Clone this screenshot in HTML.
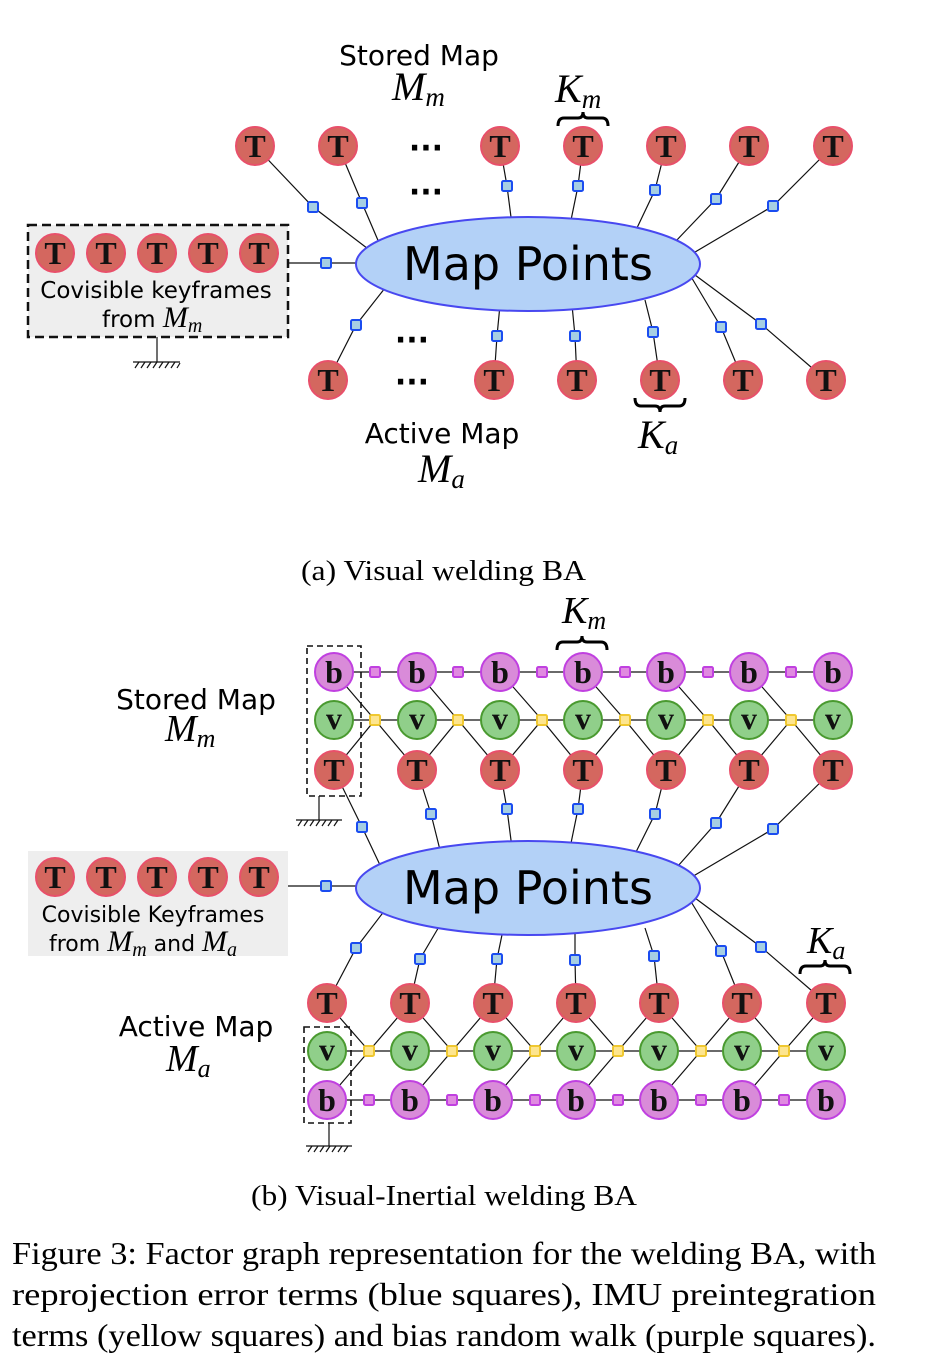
<!DOCTYPE html>
<html><head><meta charset="utf-8"><style>
html,body{margin:0;padding:0;background:#fff}
svg{display:block}
.ln{stroke:#111;stroke-width:1.2;fill:none}
.bs{fill:#a6cfe3;stroke:#1a4cf0;stroke-width:2}
.ys{fill:#fde58f;stroke:#f0c830;stroke-width:2}
.ps{fill:#e08ae0;stroke:#c040e0;stroke-width:2}
.T{fill:#d4675f;stroke:#e8506a;stroke-width:2}
.B{fill:#d98bd9;stroke:#c040e0;stroke-width:2}
.V{fill:#90cf8a;stroke:#4a9a30;stroke-width:2}
.nt{font-family:"Liberation Serif",serif;font-weight:bold;font-size:32px;text-anchor:middle;fill:#111}
.sans{font-family:"DejaVu Sans","Liberation Sans",sans-serif;fill:#000}
.mi{font-family:"Liberation Serif",serif;font-style:italic;fill:#000}
.cap{font-family:"Liberation Serif",serif;fill:#000}
</style></head><body>
<svg width="930" height="1368" viewBox="0 0 930 1368" xmlns="http://www.w3.org/2000/svg">
<rect x="28" y="225" width="260" height="112" fill="#eee" stroke="#111" stroke-width="2.5" stroke-dasharray="9,5"/>
<line class="ln" x1="157" y1="337" x2="157" y2="362"/>
<line class="ln" x1="133" y1="362" x2="180" y2="362"/>
<path class="ln" d="M135,368l4,-6M141,368l4,-6M147,368l4,-6M153,368l4,-6M159,368l4,-6M165,368l4,-6M171,368l4,-6M177,368l3,-5"/>
<polyline class="ln" points="255,146 313,207 380,258"/>
<polyline class="ln" points="338,146 362,203 380,245"/>
<polyline class="ln" points="500,146 507,186 512,225"/>
<polyline class="ln" points="583,146 578,186 570,225"/>
<polyline class="ln" points="666,146 655,190 636,230"/>
<polyline class="ln" points="749,146 716,199 675,242"/>
<polyline class="ln" points="833,146 773,206 690,255"/>
<line class="ln" x1="288" y1="263" x2="365" y2="263"/>
<polyline class="ln" points="328,380 356,325 385,288"/>
<polyline class="ln" points="494,380 497,336 500,305"/>
<polyline class="ln" points="577,380 575,336 572,305"/>
<polyline class="ln" points="660,380 653,332 645,300"/>
<polyline class="ln" points="743,380 721,327 690,275"/>
<polyline class="ln" points="826,380 761,324 695,275"/>
<ellipse cx="528" cy="264" rx="172" ry="47" fill="#b3d1f7" stroke="#4848f0" stroke-width="2"/>
<text x="528" y="280" class="sans" font-size="46" text-anchor="middle">Map Points</text>
<g>
<rect class="bs" x="308" y="202" width="10" height="10" rx="1.5"/>
<rect class="bs" x="357" y="198" width="10" height="10" rx="1.5"/>
<rect class="bs" x="502" y="181" width="10" height="10" rx="1.5"/>
<rect class="bs" x="573" y="181" width="10" height="10" rx="1.5"/>
<rect class="bs" x="650" y="185" width="10" height="10" rx="1.5"/>
<rect class="bs" x="711" y="194" width="10" height="10" rx="1.5"/>
<rect class="bs" x="768" y="201" width="10" height="10" rx="1.5"/>
<rect class="bs" x="321" y="258" width="10" height="10" rx="1.5"/>
<rect class="bs" x="351" y="320" width="10" height="10" rx="1.5"/>
<rect class="bs" x="492" y="331" width="10" height="10" rx="1.5"/>
<rect class="bs" x="570" y="331" width="10" height="10" rx="1.5"/>
<rect class="bs" x="648" y="327" width="10" height="10" rx="1.5"/>
<rect class="bs" x="716" y="322" width="10" height="10" rx="1.5"/>
<rect class="bs" x="756" y="319" width="10" height="10" rx="1.5"/>
</g>
<g>
<circle class="T" cx="255" cy="146" r="19"/><text class="nt" x="255" y="157">T</text>
<circle class="T" cx="338" cy="146" r="19"/><text class="nt" x="338" y="157">T</text>
<circle class="T" cx="500" cy="146" r="19"/><text class="nt" x="500" y="157">T</text>
<circle class="T" cx="583" cy="146" r="19"/><text class="nt" x="583" y="157">T</text>
<circle class="T" cx="666" cy="146" r="19"/><text class="nt" x="666" y="157">T</text>
<circle class="T" cx="749" cy="146" r="19"/><text class="nt" x="749" y="157">T</text>
<circle class="T" cx="833" cy="146" r="19"/><text class="nt" x="833" y="157">T</text>
<circle class="T" cx="328" cy="380" r="19"/><text class="nt" x="328" y="391">T</text>
<circle class="T" cx="494" cy="380" r="19"/><text class="nt" x="494" y="391">T</text>
<circle class="T" cx="577" cy="380" r="19"/><text class="nt" x="577" y="391">T</text>
<circle class="T" cx="660" cy="380" r="19"/><text class="nt" x="660" y="391">T</text>
<circle class="T" cx="743" cy="380" r="19"/><text class="nt" x="743" y="391">T</text>
<circle class="T" cx="826" cy="380" r="19"/><text class="nt" x="826" y="391">T</text>
<circle class="T" cx="55" cy="253" r="19"/><text class="nt" x="55" y="264">T</text>
<circle class="T" cx="106" cy="253" r="19"/><text class="nt" x="106" y="264">T</text>
<circle class="T" cx="157" cy="253" r="19"/><text class="nt" x="157" y="264">T</text>
<circle class="T" cx="208" cy="253" r="19"/><text class="nt" x="208" y="264">T</text>
<circle class="T" cx="259" cy="253" r="19"/><text class="nt" x="259" y="264">T</text>
</g>
<text x="426" y="158" class="sans" font-size="30" text-anchor="middle" font-weight="bold">···</text>
<text x="426" y="202" class="sans" font-size="30" text-anchor="middle" font-weight="bold">···</text>
<text x="412" y="350" class="sans" font-size="30" text-anchor="middle" font-weight="bold">···</text>
<text x="412" y="392" class="sans" font-size="30" text-anchor="middle" font-weight="bold">···</text>
<text x="156" y="298" class="sans" font-size="23" text-anchor="middle">Covisible keyframes</text>
<text x="102" y="327" class="sans" font-size="23">from <tspan class="mi" font-size="30">M</tspan><tspan class="mi" font-size="20" dy="5">m</tspan></text>
<text x="419" y="65" class="sans" font-size="28" text-anchor="middle">Stored Map</text>
<text x="392" y="100" class="mi" font-size="40">M<tspan font-size="27" dy="6">m</tspan></text>
<text x="555" y="102" class="mi" font-size="40">K<tspan font-size="27" dy="6">m</tspan></text>
<path d="M558,126 q0,-8 6,-8 h14 q5,0 5,-6 q0,6 5,6 h14 q6,0 6,8" fill="none" stroke="#000" stroke-width="3"/>
<text x="442" y="443" class="sans" font-size="28" text-anchor="middle">Active Map</text>
<text x="418" y="482" class="mi" font-size="40">M<tspan font-size="27" dy="6">a</tspan></text>
<path d="M635,398 q0,8 6,8 h14 q5,0 5,6 q0,-6 5,-6 h14 q6,0 6,-8" fill="none" stroke="#000" stroke-width="3"/>
<text x="638" y="448" class="mi" font-size="40">K<tspan font-size="27" dy="6">a</tspan></text>
<text x="301" y="580" class="cap" font-size="28" textLength="285" lengthAdjust="spacingAndGlyphs">(a) Visual welding BA</text>

<rect x="28" y="851" width="260" height="105" fill="#eee"/>
<line class="ln" x1="334" y1="672" x2="833" y2="672"/>
<line class="ln" x1="334" y1="720" x2="833" y2="720"/>
<path class="ln" d="M334,672L375,720M417,672L458,720M500,672L542,720M583,672L625,720M666,672L708,720M749,672L791,720"/>
<path class="ln" d="M334,770L375,720L417,770L458,720L500,770L542,720L583,770L625,720L666,770L708,720L749,770L791,720L833,770"/>
<rect x="307" y="646" width="54" height="150" fill="none" stroke="#111" stroke-width="1.6" stroke-dasharray="6,4"/>
<line class="ln" x1="319" y1="796" x2="319" y2="820"/>
<line class="ln" x1="296" y1="820" x2="342" y2="820"/>
<path class="ln" d="M298,826l4,-6M304,826l4,-6M310,826l4,-6M316,826l4,-6M322,826l4,-6M328,826l4,-6M334,826l4,-6"/>
<line class="ln" x1="327" y1="1051" x2="826" y2="1051"/>
<line class="ln" x1="327" y1="1100" x2="826" y2="1100"/>
<path class="ln" d="M327,1003L369,1051L410,1003L452,1051L493,1003L535,1051L576,1003L618,1051L659,1003L701,1051L742,1003L784,1051L826,1003"/>
<path class="ln" d="M327,1100L369,1051M410,1100L452,1051M493,1100L535,1051M576,1100L618,1051M659,1100L701,1051M742,1100L784,1051"/>
<rect x="304" y="1027" width="47" height="96" fill="none" stroke="#111" stroke-width="1.6" stroke-dasharray="6,4"/>
<line class="ln" x1="329" y1="1123" x2="329" y2="1146"/>
<line class="ln" x1="306" y1="1146" x2="352" y2="1146"/>
<path class="ln" d="M308,1152l4,-6M314,1152l4,-6M320,1152l4,-6M326,1152l4,-6M332,1152l4,-6M338,1152l4,-6M344,1152l4,-6"/>
<polyline class="ln" points="334,770 362,827 380,865"/>
<polyline class="ln" points="417,770 431,814 440,850"/>
<polyline class="ln" points="500,770 507,809 512,848"/>
<polyline class="ln" points="583,770 578,809 570,848"/>
<polyline class="ln" points="666,770 655,814 636,852"/>
<polyline class="ln" points="749,770 716,823 678,866"/>
<polyline class="ln" points="833,770 773,829 690,878"/>
<line class="ln" x1="288" y1="886" x2="365" y2="886"/>
<polyline class="ln" points="327,1003 356,948 385,910"/>
<polyline class="ln" points="410,1003 420,959 440,925"/>
<polyline class="ln" points="493,1003 497,959 503,930"/>
<polyline class="ln" points="576,1003 575,960 575,930"/>
<polyline class="ln" points="659,1003 654,956 645,928"/>
<polyline class="ln" points="742,1003 721,951 690,900"/>
<polyline class="ln" points="826,1003 761,947 695,898"/>
<ellipse cx="528" cy="888" rx="172" ry="47" fill="#b3d1f7" stroke="#4848f0" stroke-width="2"/>
<text x="528" y="904" class="sans" font-size="46" text-anchor="middle">Map Points</text>
<g>
<rect class="bs" x="357" y="822" width="10" height="10" rx="1.5"/>
<rect class="bs" x="426" y="809" width="10" height="10" rx="1.5"/>
<rect class="bs" x="502" y="804" width="10" height="10" rx="1.5"/>
<rect class="bs" x="573" y="804" width="10" height="10" rx="1.5"/>
<rect class="bs" x="650" y="809" width="10" height="10" rx="1.5"/>
<rect class="bs" x="711" y="818" width="10" height="10" rx="1.5"/>
<rect class="bs" x="768" y="824" width="10" height="10" rx="1.5"/>
<rect class="bs" x="321" y="881" width="10" height="10" rx="1.5"/>
<rect class="bs" x="351" y="943" width="10" height="10" rx="1.5"/>
<rect class="bs" x="415" y="954" width="10" height="10" rx="1.5"/>
<rect class="bs" x="492" y="954" width="10" height="10" rx="1.5"/>
<rect class="bs" x="570" y="955" width="10" height="10" rx="1.5"/>
<rect class="bs" x="649" y="951" width="10" height="10" rx="1.5"/>
<rect class="bs" x="716" y="946" width="10" height="10" rx="1.5"/>
<rect class="bs" x="756" y="942" width="10" height="10" rx="1.5"/>
</g>
<g>
<rect class="ps" x="370" y="667" width="10" height="10" rx="1.5"/>
<rect class="ps" x="453" y="667" width="10" height="10" rx="1.5"/>
<rect class="ps" x="537" y="667" width="10" height="10" rx="1.5"/>
<rect class="ps" x="620" y="667" width="10" height="10" rx="1.5"/>
<rect class="ps" x="703" y="667" width="10" height="10" rx="1.5"/>
<rect class="ps" x="786" y="667" width="10" height="10" rx="1.5"/>
<rect class="ys" x="370" y="715" width="10" height="10" rx="1.5"/>
<rect class="ys" x="453" y="715" width="10" height="10" rx="1.5"/>
<rect class="ys" x="537" y="715" width="10" height="10" rx="1.5"/>
<rect class="ys" x="620" y="715" width="10" height="10" rx="1.5"/>
<rect class="ys" x="703" y="715" width="10" height="10" rx="1.5"/>
<rect class="ys" x="786" y="715" width="10" height="10" rx="1.5"/>
<rect class="ys" x="364" y="1046" width="10" height="10" rx="1.5"/>
<rect class="ys" x="447" y="1046" width="10" height="10" rx="1.5"/>
<rect class="ys" x="530" y="1046" width="10" height="10" rx="1.5"/>
<rect class="ys" x="613" y="1046" width="10" height="10" rx="1.5"/>
<rect class="ys" x="696" y="1046" width="10" height="10" rx="1.5"/>
<rect class="ys" x="779" y="1046" width="10" height="10" rx="1.5"/>
<rect class="ps" x="364" y="1095" width="10" height="10" rx="1.5"/>
<rect class="ps" x="447" y="1095" width="10" height="10" rx="1.5"/>
<rect class="ps" x="530" y="1095" width="10" height="10" rx="1.5"/>
<rect class="ps" x="613" y="1095" width="10" height="10" rx="1.5"/>
<rect class="ps" x="696" y="1095" width="10" height="10" rx="1.5"/>
<rect class="ps" x="779" y="1095" width="10" height="10" rx="1.5"/>
</g>
<g>
<circle class="B" cx="334" cy="672" r="19"/><text class="nt" x="334" y="683">b</text>
<circle class="B" cx="417" cy="672" r="19"/><text class="nt" x="417" y="683">b</text>
<circle class="B" cx="500" cy="672" r="19"/><text class="nt" x="500" y="683">b</text>
<circle class="B" cx="583" cy="672" r="19"/><text class="nt" x="583" y="683">b</text>
<circle class="B" cx="666" cy="672" r="19"/><text class="nt" x="666" y="683">b</text>
<circle class="B" cx="749" cy="672" r="19"/><text class="nt" x="749" y="683">b</text>
<circle class="B" cx="833" cy="672" r="19"/><text class="nt" x="833" y="683">b</text>
<circle class="V" cx="334" cy="720" r="19"/><text class="nt" x="334" y="729">v</text>
<circle class="V" cx="417" cy="720" r="19"/><text class="nt" x="417" y="729">v</text>
<circle class="V" cx="500" cy="720" r="19"/><text class="nt" x="500" y="729">v</text>
<circle class="V" cx="583" cy="720" r="19"/><text class="nt" x="583" y="729">v</text>
<circle class="V" cx="666" cy="720" r="19"/><text class="nt" x="666" y="729">v</text>
<circle class="V" cx="749" cy="720" r="19"/><text class="nt" x="749" y="729">v</text>
<circle class="V" cx="833" cy="720" r="19"/><text class="nt" x="833" y="729">v</text>
<circle class="T" cx="334" cy="770" r="19"/><text class="nt" x="334" y="781">T</text>
<circle class="T" cx="417" cy="770" r="19"/><text class="nt" x="417" y="781">T</text>
<circle class="T" cx="500" cy="770" r="19"/><text class="nt" x="500" y="781">T</text>
<circle class="T" cx="583" cy="770" r="19"/><text class="nt" x="583" y="781">T</text>
<circle class="T" cx="666" cy="770" r="19"/><text class="nt" x="666" y="781">T</text>
<circle class="T" cx="749" cy="770" r="19"/><text class="nt" x="749" y="781">T</text>
<circle class="T" cx="833" cy="770" r="19"/><text class="nt" x="833" y="781">T</text>
<circle class="T" cx="327" cy="1003" r="19"/><text class="nt" x="327" y="1014">T</text>
<circle class="T" cx="410" cy="1003" r="19"/><text class="nt" x="410" y="1014">T</text>
<circle class="T" cx="493" cy="1003" r="19"/><text class="nt" x="493" y="1014">T</text>
<circle class="T" cx="576" cy="1003" r="19"/><text class="nt" x="576" y="1014">T</text>
<circle class="T" cx="659" cy="1003" r="19"/><text class="nt" x="659" y="1014">T</text>
<circle class="T" cx="742" cy="1003" r="19"/><text class="nt" x="742" y="1014">T</text>
<circle class="T" cx="826" cy="1003" r="19"/><text class="nt" x="826" y="1014">T</text>
<circle class="V" cx="327" cy="1051" r="19"/><text class="nt" x="327" y="1060">v</text>
<circle class="V" cx="410" cy="1051" r="19"/><text class="nt" x="410" y="1060">v</text>
<circle class="V" cx="493" cy="1051" r="19"/><text class="nt" x="493" y="1060">v</text>
<circle class="V" cx="576" cy="1051" r="19"/><text class="nt" x="576" y="1060">v</text>
<circle class="V" cx="659" cy="1051" r="19"/><text class="nt" x="659" y="1060">v</text>
<circle class="V" cx="742" cy="1051" r="19"/><text class="nt" x="742" y="1060">v</text>
<circle class="V" cx="826" cy="1051" r="19"/><text class="nt" x="826" y="1060">v</text>
<circle class="B" cx="327" cy="1100" r="19"/><text class="nt" x="327" y="1111">b</text>
<circle class="B" cx="410" cy="1100" r="19"/><text class="nt" x="410" y="1111">b</text>
<circle class="B" cx="493" cy="1100" r="19"/><text class="nt" x="493" y="1111">b</text>
<circle class="B" cx="576" cy="1100" r="19"/><text class="nt" x="576" y="1111">b</text>
<circle class="B" cx="659" cy="1100" r="19"/><text class="nt" x="659" y="1111">b</text>
<circle class="B" cx="742" cy="1100" r="19"/><text class="nt" x="742" y="1111">b</text>
<circle class="B" cx="826" cy="1100" r="19"/><text class="nt" x="826" y="1111">b</text>
<circle class="T" cx="55" cy="877" r="19"/><text class="nt" x="55" y="888">T</text>
<circle class="T" cx="106" cy="877" r="19"/><text class="nt" x="106" y="888">T</text>
<circle class="T" cx="157" cy="877" r="19"/><text class="nt" x="157" y="888">T</text>
<circle class="T" cx="208" cy="877" r="19"/><text class="nt" x="208" y="888">T</text>
<circle class="T" cx="259" cy="877" r="19"/><text class="nt" x="259" y="888">T</text>
</g>
<text x="153" y="922" class="sans" font-size="22" text-anchor="middle">Covisible Keyframes</text>
<text x="49" y="951" class="sans" font-size="22">from <tspan class="mi" font-size="30">M</tspan><tspan class="mi" font-size="20" dy="5">m</tspan><tspan dy="-5"> and </tspan><tspan class="mi" font-size="30">M</tspan><tspan class="mi" font-size="20" dy="5">a</tspan></text>
<text x="196" y="709" class="sans" font-size="28" text-anchor="middle">Stored Map</text>
<text x="165" y="741" class="mi" font-size="38">M<tspan font-size="26" dy="6">m</tspan></text>
<text x="562" y="623" class="mi" font-size="38">K<tspan font-size="26" dy="6">m</tspan></text>
<path d="M557,650 q0,-8 6,-8 h14 q5,0 5,-6 q0,6 5,6 h14 q6,0 6,8" fill="none" stroke="#000" stroke-width="3"/>
<text x="196" y="1036" class="sans" font-size="28" text-anchor="middle">Active Map</text>
<text x="166" y="1071" class="mi" font-size="38">M<tspan font-size="26" dy="6">a</tspan></text>
<text x="807" y="953" class="mi" font-size="38">K<tspan font-size="26" dy="6">a</tspan></text>
<path d="M800,974 q0,-8 6,-8 h14 q5,0 5,-6 q0,6 5,6 h14 q6,0 6,8" fill="none" stroke="#000" stroke-width="3"/>
<text x="251" y="1205" class="cap" font-size="28" textLength="386" lengthAdjust="spacingAndGlyphs">(b) Visual-Inertial welding BA</text>
<text x="12" y="1264" class="cap" font-size="32" textLength="864" lengthAdjust="spacingAndGlyphs">Figure 3: Factor graph representation for the welding BA, with</text>
<text x="12" y="1305" class="cap" font-size="32" textLength="864" lengthAdjust="spacingAndGlyphs">reprojection  error  terms  (blue  squares),  IMU  preintegration</text>
<text x="12" y="1346" class="cap" font-size="32" textLength="864" lengthAdjust="spacingAndGlyphs">terms (yellow squares) and bias random walk (purple squares).</text>
</svg>
</body></html>
